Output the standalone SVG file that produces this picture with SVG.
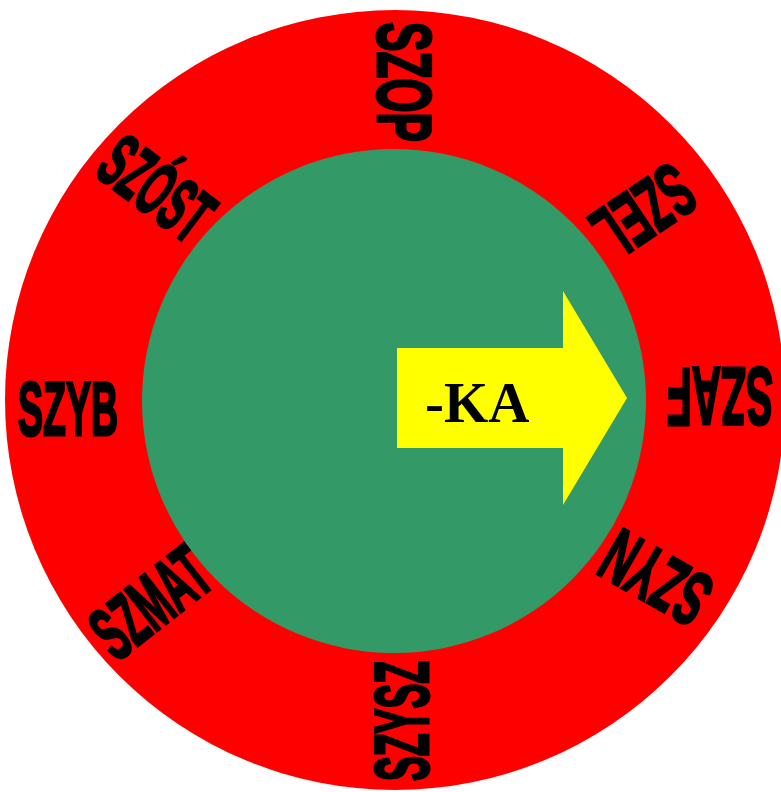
<svg xmlns="http://www.w3.org/2000/svg" width="781" height="792" viewBox="0 0 781 792">
<style>
.lbl{font-family:"Liberation Sans",Arial,sans-serif;font-weight:bold;font-size:76px;fill:#000;stroke:#000;stroke-width:3}
.ka{font-family:"Liberation Serif","Times New Roman",serif;font-weight:bold;font-size:57px;fill:#000}
</style>
<rect width="781" height="792" fill="#fff"/>
<g id="ring"><circle cx="395" cy="400" r="390" fill="#ff0000"/></g>
<g id="core"><circle cx="394" cy="401" r="252" fill="#339966"/></g>
<g id="arrow">
<polygon points="397,348 563,348 563,291 627,398 563,505 563,448 397,448" fill="#ffff00"/>
<text class="ka" x="425" y="422">-KA</text>
</g>
<g id="labels">
<g id="szop" transform="translate(405,82) rotate(90)"><text class="lbl" x="-60" y="27" textLength="120" lengthAdjust="spacingAndGlyphs">SZOP</text></g>
<g id="szel" transform="translate(644,212) rotate(146)"><text class="lbl" x="-52" y="27" textLength="104" lengthAdjust="spacingAndGlyphs">SZEL</text></g>
<g id="szaf" transform="translate(720,398) rotate(180)"><text class="lbl" x="-53" y="30" style="font-size:82px" textLength="106" lengthAdjust="spacingAndGlyphs">SZAF</text></g>
<g id="szyn" transform="translate(655,579) rotate(210)"><text class="lbl" x="-56" y="28" textLength="112" lengthAdjust="spacingAndGlyphs">SZYN</text></g>
<g id="szysz" transform="translate(400,721) rotate(-90)"><text class="lbl" x="-60" y="28" textLength="120" lengthAdjust="spacingAndGlyphs">SZYSZ</text></g>
<g id="szmat" transform="translate(150,602) rotate(-38)"><text class="lbl" x="-64" y="27" textLength="128" lengthAdjust="spacingAndGlyphs">SZMAT</text></g>
<g id="szyb" transform="translate(68,410)"><text class="lbl" x="-50" y="25" textLength="100" lengthAdjust="spacingAndGlyphs">SZYB</text></g>
<g id="szost" transform="translate(157,188) rotate(37)"><text class="lbl" x="-60" y="27" textLength="120" lengthAdjust="spacingAndGlyphs">SZÓST</text></g>
</g>
</svg>
